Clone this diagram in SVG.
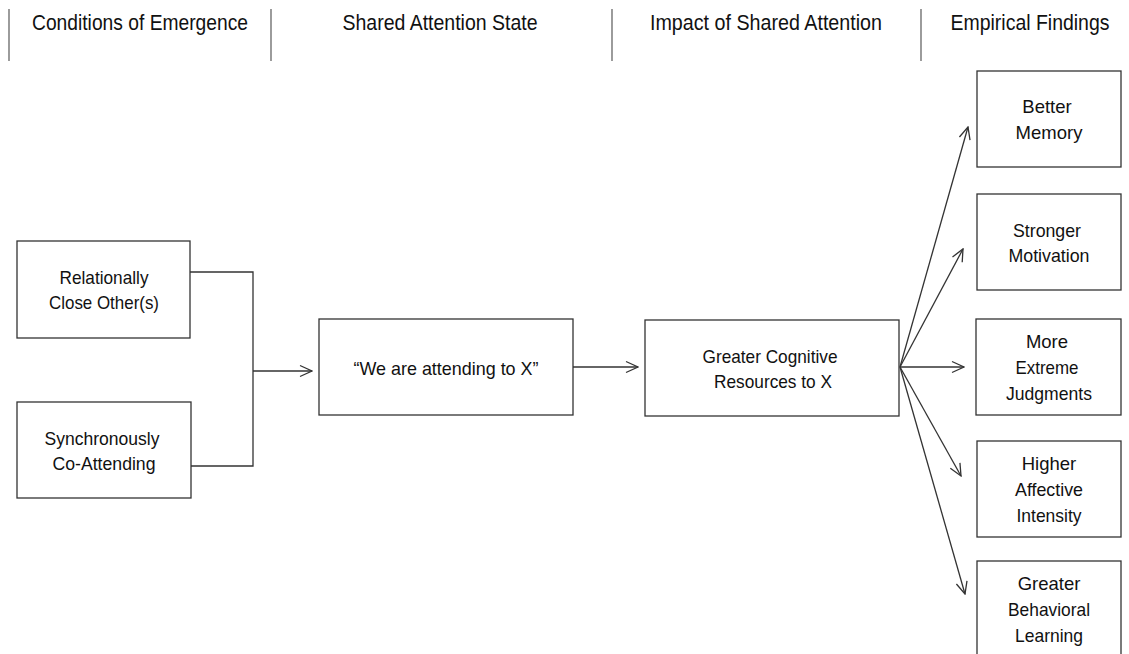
<svg xmlns="http://www.w3.org/2000/svg" width="1129" height="654" viewBox="0 0 1129 654">
<style>
.hd{font-family:"Liberation Sans",Arial,sans-serif;font-size:22px;fill:#111;text-anchor:middle}
.t{font-family:"Liberation Sans",Arial,sans-serif;font-size:18.5px;fill:#111;text-anchor:middle}
.box{fill:#fff;stroke:#333;stroke-width:1.3}
.div{stroke:#666;stroke-width:1.3}
.c{fill:none;stroke:#333;stroke-width:1.3}
</style>
<defs>
<marker id="ah" viewBox="0 0 14 14" refX="13" refY="7" markerWidth="14" markerHeight="14" markerUnits="userSpaceOnUse" orient="auto">
<path d="M1,1.5 L13,7 L1,12.5" fill="none" stroke="#333" stroke-width="1.3"/>
</marker>
</defs>
<g id="headers">
<line class="div" x1="9" y1="9" x2="9" y2="61"/>
<line class="div" x1="271" y1="9" x2="271" y2="61"/>
<line class="div" x1="612" y1="9" x2="612" y2="61"/>
<line class="div" x1="921" y1="9" x2="921" y2="61"/>
<text class="hd" x="140" y="30" textLength="216" lengthAdjust="spacingAndGlyphs">Conditions of Emergence</text>
<text class="hd" x="440" y="30" textLength="195" lengthAdjust="spacingAndGlyphs">Shared Attention State</text>
<text class="hd" x="766" y="30" textLength="232" lengthAdjust="spacingAndGlyphs">Impact of Shared Attention</text>
<text class="hd" x="1030" y="30" textLength="159" lengthAdjust="spacingAndGlyphs">Empirical Findings</text>
</g>
<g id="connectors">
<polyline class="c" points="190,272 253,272 253,466 191,466"/>
<line class="c" x1="253" y1="371" x2="312" y2="371" marker-end="url(#ah)"/>
<line class="c" x1="573" y1="367" x2="638" y2="367" marker-end="url(#ah)"/>
<line class="c" x1="900" y1="367" x2="968" y2="127" marker-end="url(#ah)"/>
<line class="c" x1="900" y1="367" x2="963" y2="249" marker-end="url(#ah)"/>
<line class="c" x1="900" y1="367" x2="964" y2="367" marker-end="url(#ah)"/>
<line class="c" x1="900" y1="367" x2="961" y2="476" marker-end="url(#ah)"/>
<line class="c" x1="900" y1="367" x2="965" y2="594" marker-end="url(#ah)"/>
</g>
<g id="n-close">
<rect class="box" x="17" y="241" width="173" height="97"/>
<text class="t" x="104" y="284" textLength="89" lengthAdjust="spacingAndGlyphs">Relationally</text>
<text class="t" x="104" y="309" textLength="110" lengthAdjust="spacingAndGlyphs">Close Other(s)</text>
</g>
<g id="n-sync">
<rect class="box" x="17" y="402" width="174" height="96"/>
<text class="t" x="102" y="445" textLength="115" lengthAdjust="spacingAndGlyphs">Synchronously</text>
<text class="t" x="104" y="470" textLength="103" lengthAdjust="spacingAndGlyphs">Co-Attending</text>
</g>
<g id="n-state">
<rect class="box" x="319" y="319" width="254" height="96"/>
<text class="t" x="446" y="375" textLength="185" lengthAdjust="spacingAndGlyphs">“We are attending to X”</text>
</g>
<g id="n-impact">
<rect class="box" x="645" y="320" width="254" height="96"/>
<text class="t" x="770" y="363" textLength="135" lengthAdjust="spacingAndGlyphs">Greater Cognitive</text>
<text class="t" x="773" y="388" textLength="118" lengthAdjust="spacingAndGlyphs">Resources to X</text>
</g>
<g id="n-memory">
<rect class="box" x="977" y="71" width="144" height="96"/>
<text class="t" x="1047" y="113">Better</text>
<text class="t" x="1049" y="139">Memory</text>
</g>
<g id="n-motivation">
<rect class="box" x="977" y="194" width="144" height="96"/>
<text class="t" x="1047" y="237" textLength="68" lengthAdjust="spacingAndGlyphs">Stronger</text>
<text class="t" x="1049" y="262" textLength="81" lengthAdjust="spacingAndGlyphs">Motivation</text>
</g>
<g id="n-judgments">
<rect class="box" x="976" y="319" width="145" height="96"/>
<text class="t" x="1047" y="348">More</text>
<text class="t" x="1047" y="374" textLength="63" lengthAdjust="spacingAndGlyphs">Extreme</text>
<text class="t" x="1049" y="400" textLength="86" lengthAdjust="spacingAndGlyphs">Judgments</text>
</g>
<g id="n-affect">
<rect class="box" x="977" y="441" width="144" height="96"/>
<text class="t" x="1049" y="470">Higher</text>
<text class="t" x="1049" y="496" textLength="68" lengthAdjust="spacingAndGlyphs">Affective</text>
<text class="t" x="1049" y="522" textLength="65" lengthAdjust="spacingAndGlyphs">Intensity</text>
</g>
<g id="n-learning">
<rect class="box" x="977" y="561" width="144" height="100"/>
<text class="t" x="1049" y="590">Greater</text>
<text class="t" x="1049" y="616" textLength="82" lengthAdjust="spacingAndGlyphs">Behavioral</text>
<text class="t" x="1049" y="642" textLength="68" lengthAdjust="spacingAndGlyphs">Learning</text>
</g>
</svg>
